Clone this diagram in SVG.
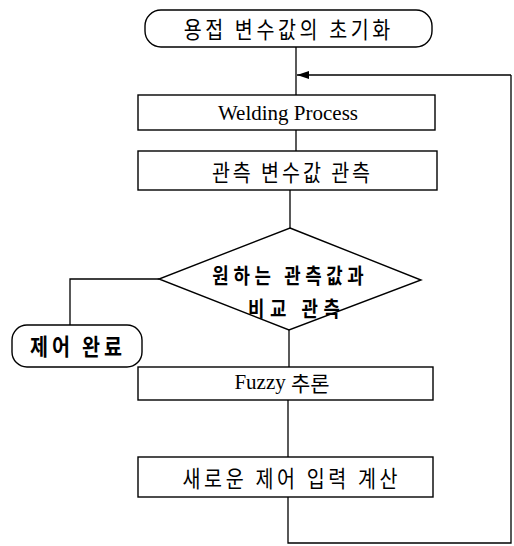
<svg xmlns="http://www.w3.org/2000/svg" width="514" height="546" viewBox="0 0 514 546">
<style>
.box{fill:#fff;stroke:#000;stroke-width:1.4}
.ln{fill:none;stroke:#000;stroke-width:1.3}
.kr{font-family:"Noto Sans CJK KR","Noto Sans",sans-serif;font-size:23px;fill:#000;text-anchor:middle;dominant-baseline:central}
.b{font-weight:bold}
.d{font-size:21px}
.en{font-family:"Liberation Serif",serif;font-size:21px;fill:#000;text-anchor:middle;dominant-baseline:central}
</style>
<defs>
<marker id="ah" viewBox="0 0 12 8" refX="12" refY="4" markerWidth="12" markerHeight="8" markerUnits="userSpaceOnUse" orient="auto">
<path d="M0,0 L12,4 L0,8 Z" fill="#000"/>
</marker>
</defs>
<rect width="514" height="546" fill="#fff"/>
<g id="connectors">
<line class="ln" x1="296" y1="47" x2="296" y2="95"/>
<line class="ln" x1="511" y1="75" x2="297" y2="75" marker-end="url(#ah)"/>
<line class="ln" x1="296" y1="130" x2="296" y2="151"/>
<line class="ln" x1="290" y1="190" x2="290" y2="228"/>
<polyline class="ln" points="159,279 70,279 70,325"/>
<line class="ln" x1="289" y1="330" x2="289" y2="367"/>
<line class="ln" x1="288" y1="400" x2="288" y2="457"/>
<polyline class="ln" points="288,497 288,543 511,543 511,75"/>
</g>
<g id="start">
<rect class="box" x="145" y="10" width="287" height="37" rx="16"/>
<text class="kr" transform="translate(287,28) scale(0.85,1)" x="0" y="0" textLength="243" lengthAdjust="spacing">용접 변수값의 초기화</text>
</g>
<g id="welding">
<rect class="box" x="138" y="95" width="297" height="35"/>
<text class="en" x="288" y="113">Welding Process</text>
</g>
<g id="measure">
<rect class="box" x="138" y="151" width="299" height="39"/>
<text class="kr" transform="translate(291,171) scale(0.85,1)" x="0" y="0" textLength="186" lengthAdjust="spacing">관측 변수값 관측</text>
</g>
<g id="compare">
<polygon class="box" points="290,228 421,280 289,330 159,279"/>
<text class="kr b d" transform="translate(288,274) scale(0.85,1)" x="0" y="0" textLength="178" lengthAdjust="spacing">원하는 관측값과</text>
<text class="kr b d" transform="translate(294,307) scale(0.85,1)" x="0" y="0" textLength="108" lengthAdjust="spacing">비교 관측</text>
</g>
<g id="done">
<rect class="box" x="12" y="325" width="130" height="42" rx="15"/>
<text class="kr b" transform="translate(76,345) scale(0.85,1)" x="0" y="0" textLength="108" lengthAdjust="spacing">제어 완료</text>
</g>
<g id="fuzzy">
<rect class="box" x="138" y="367" width="295" height="33"/>
<text class="en" x="282" y="382"><tspan>Fuzzy </tspan><tspan font-family="'Noto Sans CJK KR',sans-serif" font-size="21">추론</tspan></text>
</g>
<g id="newinput">
<rect class="box" x="138" y="457" width="295" height="40"/>
<text class="kr" transform="translate(290,477) scale(0.85,1)" x="0" y="0" textLength="253" lengthAdjust="spacing">새로운 제어 입력 계산</text>
</g>
</svg>
